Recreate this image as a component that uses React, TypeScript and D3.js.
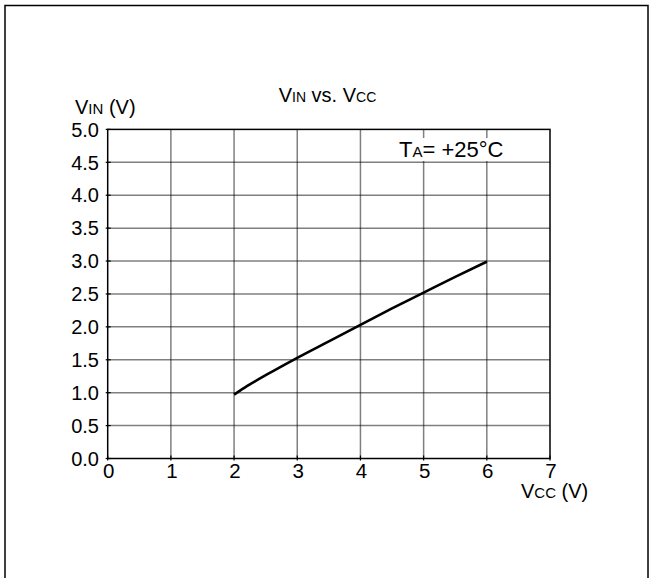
import React from "react";
import * as d3 from "d3";

const vcc = [2.0, 2.1, 2.25, 2.5, 3.0, 3.5, 4.0, 4.5, 5.0, 5.5, 6.0];
const vin = [0.97, 1.035, 1.125, 1.265, 1.53, 1.78, 2.03, 2.28, 2.52, 2.76, 2.99];
const xTicks = [0, 1, 2, 3, 4, 5, 6, 7];
const yTicks = [0, 0.5, 1, 1.5, 2, 2.5, 3, 3.5, 4, 4.5, 5];

const W = 654;
const H = 578;
const L = 107.7;
const R = 550;
const T = 129.4;
const B = 458.5;
const FONT = "'Liberation Sans', Arial, Helvetica, sans-serif";

export default function App() {
  const x = d3.scaleLinear().domain([0, 7]).range([L, R]);
  const y = d3.scaleLinear().domain([0, 5]).range([B, T]);
  const line = d3
    .line<number>()
    .x((_, i) => x(vcc[i]))
    .y((d) => y(d))
    .curve(d3.curveMonotoneX);

  return (
    <div style={{ position: "absolute", left: 0, top: 0 }}>
      <svg width={W} height={H} style={{ display: "block" }} fontFamily={FONT}>
        <rect x={0} y={0} width={W} height={H} fill="#fff" />
        <rect x={5} y={5.5} width={643} height={620} fill="none" stroke="#000" strokeWidth={1.5} />

        {/* grid */}
        {xTicks.slice(1, -1).map((t) => (
          <line key={"gx" + t} x1={x(t)} x2={x(t)} y1={T} y2={B} stroke="#000" strokeOpacity={0.5} strokeWidth={1.5} />
        ))}
        {yTicks.slice(1, -1).map((t) => (
          <line key={"gy" + t} x1={L} x2={R} y1={y(t)} y2={y(t)} stroke="#000" strokeOpacity={0.5} strokeWidth={1.5} />
        ))}

        {/* legend box */}
        <rect x={394} y={138} width={124} height={23} fill="#fff" />
        <text x={399} y={157} fontSize={22} fill="#000">
          T<tspan fontSize={15}>A</tspan>= +25°C
        </text>

        {/* frame */}
        <rect x={L} y={T} width={R - L} height={B - T} fill="none" stroke="#000" strokeWidth={1.5} />

        {/* tick marks */}
        {yTicks.map((t) => (
          <line key={"ty" + t} x1={L - 2} x2={L + 3} y1={y(t)} y2={y(t)} stroke="#000" strokeWidth={1.2} />
        ))}
        {xTicks.map((t) => (
          <line key={"tx" + t} x1={x(t)} x2={x(t)} y1={B + 2} y2={B - 3} stroke="#000" strokeWidth={1.2} />
        ))}

        {/* curve */}
        <path d={line(vin) || ""} fill="none" stroke="#000" strokeWidth={2.6} />

        {/* tick labels */}
        {yTicks.map((t) => (
          <text key={"ly" + t} x={99} y={y(t)} dy="0.36em" textAnchor="end" fontSize={20} fill="#000">
            {t.toFixed(1)}
          </text>
        ))}
        {xTicks.map((t) => (
          <text key={"lx" + t} x={x(t) + 1} y={478} textAnchor="middle" fontSize={20.5} fill="#000">
            {t}
          </text>
        ))}

        {/* title */}
        <text x={327.5} y={102} textAnchor="middle" fontSize={20} fill="#000">
          V<tspan fontSize={14}>IN</tspan> vs. V<tspan fontSize={14}>CC</tspan>
        </text>

        {/* axis labels */}
        <text x={75} y={114} fontSize={20} fill="#000">
          V<tspan fontSize={15}>IN</tspan> (V)
        </text>
        <text x={521} y={498} fontSize={20} fill="#000">
          V<tspan fontSize={15}>CC</tspan> (V)
        </text>
      </svg>
    </div>
  );
}
